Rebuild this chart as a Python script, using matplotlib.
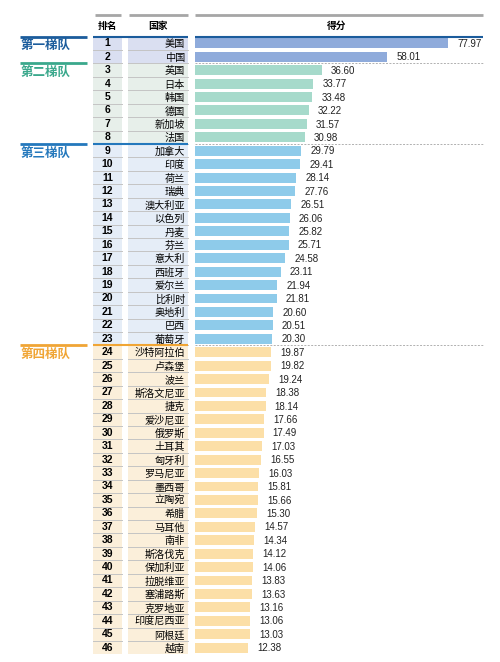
# ranking table with score bars, four tiers

import matplotlib.pyplot as plt

plt.rcParams['font.family'] = ['Noto Sans CJK SC', 'DejaVu Sans']

countries = ["美国", "中国", "英国", "日本", "韩国", "德国", "新加坡", "法国",
             "加拿大", "印度", "荷兰", "瑞典", "澳大利亚", "以色列", "丹麦", "芬兰",
             "意大利", "西班牙", "爱尔兰", "比利时", "奥地利", "巴西", "葡萄牙",
             "沙特阿拉伯", "卢森堡", "波兰", "斯洛文尼亚", "捷克", "爱沙尼亚", "俄罗斯",
             "土耳其", "匈牙利", "罗马尼亚", "墨西哥", "立陶宛", "希腊", "马耳他", "南非",
             "斯洛伐克", "保加利亚", "拉脱维亚", "塞浦路斯", "克罗地亚", "印度尼西亚",
             "阿根廷", "越南"]
scores = [77.97, 58.01, 36.60, 33.77, 33.48, 32.22, 31.57, 30.98,
          29.79, 29.41, 28.14, 27.76, 26.51, 26.06, 25.82, 25.71,
          24.58, 23.11, 21.94, 21.81, 20.60, 20.51, 20.30,
          19.87, 19.82, 19.24, 18.38, 18.14, 17.66, 17.49,
          17.03, 16.55, 16.03, 15.81, 15.66, 15.30, 14.57, 14.34,
          14.12, 14.06, 13.83, 13.63, 13.16, 13.06, 13.03, 12.38]
tier_names = ["第一梯队", "第二梯队", "第三梯队", "第四梯队"]
tier_start = [1, 3, 9, 24]  # first rank of each tier
tier_end = [2, 8, 23, 46]

bar_colors = ["#8FABDB", "#A6DACB", "#8ECBEA", "#FCDFA7"]
cell_colors = ["#DADFF1", "#E7EFEA", "#E5EDF7", "#FBEFDA"]
label_colors = ["#1B5C9C", "#3AA88C", "#2478BC", "#F0A535"]

W, H = 500, 662
fig = plt.figure(figsize=(W / 100, H / 100), dpi=100)

# vertical layout: rows in data units, row 1 centred at ~43px
row_h = 13.43
top_px = 43.3 - row_h * 2.5
bot_px = 43.3 + row_h * 45.5
ax_pos_y = (H - bot_px) / H
ax_h = (bot_px - top_px) / H

ax = fig.add_axes([0, ax_pos_y, 1, ax_h])
ax.set_xlim(0, W)
ax.set_ylim(46.5, -1.5)
ax.axis('off')

# bar axes: base -5 at x=195px, 3.05 px per point
base = -5
scale = 3.05
bx0, bx1 = 195, 490
axb = fig.add_axes([bx0 / W, ax_pos_y, (bx1 - bx0) / W, ax_h])
axb.set_xlim(base, base + (bx1 - bx0) / scale)
axb.set_ylim(46.5, -1.5)
axb.axis('off')

rank_x = (93, 122)
name_x = (128, 188)

# header
for (x0, x1) in [(95, 121), (129, 188)]:
    ax.plot([x0, x1], [-1.1, -1.1], color="#A6A6A6", lw=2, solid_capstyle='butt')
axb.plot([base, base + (483 - bx0) / scale], [-1.1, -1.1], color="#A6A6A6", lw=2,
         solid_capstyle='butt')
for hx, htxt in [(107, "排名"), (158, "国家"), (337, "得分")]:
    ax.text(hx, -0.08, htxt, ha='center', va='baseline', fontsize=7,
            fontweight='bold')

x_end = base + (483 - bx0) / scale

for t in range(4):
    s, e = tier_start[t], tier_end[t]
    for r in range(s, e + 1):
        for (x0, x1) in [rank_x, name_x]:
            ax.add_patch(plt.Rectangle((x0, r - 0.5), x1 - x0, 1,
                                       facecolor=cell_colors[t], edgecolor='none'))
            ax.plot([x0, x1], [r + 0.5, r + 0.5], color="#C4C4C4", lw=0.7)
        ax.text(sum(rank_x) / 2, r, str(r), ha='center', va='center',
                fontsize=7.5, fontweight='bold', family='Liberation Sans')
        ax.text(185, r + 0.3, countries[r - 1], ha='right', va='baseline',
                fontsize=7.3)
        v = scores[r - 1]
        axb.barh(r, v - base, left=base, height=0.74, color=bar_colors[t])
        axb.text(v + 3, r + 0.05, f"{v:.2f}", ha='left', va='center', fontsize=7,
                 family='Liberation Sans', color="#222222")

    # tier label and its line
    ax.plot([20, 87], [s - 0.5, s - 0.5], color=label_colors[t], lw=2,
            solid_capstyle='butt')
    ax.text(21, s + 0.43, tier_names[t], ha='left', va='baseline', fontsize=9,
            fontweight='bold', color=label_colors[t])
    if t != 1:
        ax.plot([rank_x[0], name_x[1]], [s - 0.5, s - 0.5], color=label_colors[t],
                lw=1.5, solid_capstyle='butt')
    if t == 0:
        axb.plot([base, x_end], [0.5, 0.5], color=label_colors[0], lw=1.5,
                 solid_capstyle='butt')
    else:
        axb.plot([base, x_end], [s - 0.5, s - 0.5], color="#B0B0B0", lw=0.7,
                 ls=(0, (2, 1.5)))

fig.savefig("out.png", dpi=100)
